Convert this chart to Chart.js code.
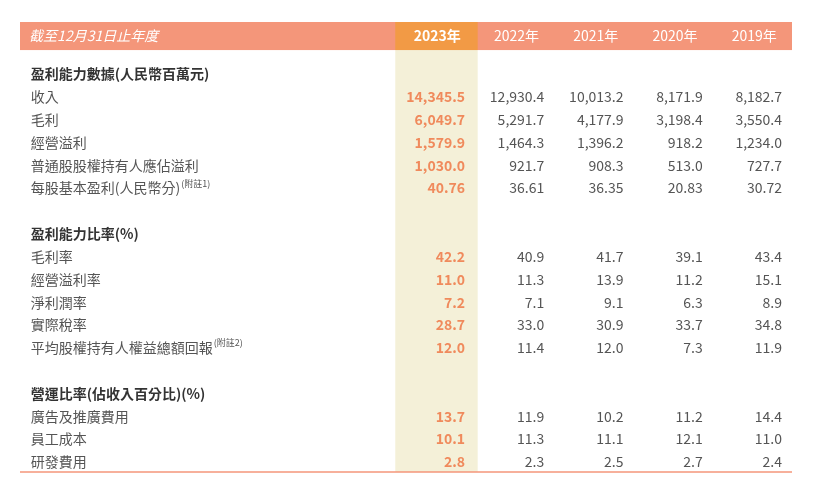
<!DOCTYPE html>
<html><head><meta charset="utf-8">
<script src="https://cdn.jsdelivr.net/npm/chart.js@4"></script>
<style>html,body{margin:0;background:#fff}#wrap{width:814px;height:481px}</style>
</head><body><div id="wrap"><canvas id="c"></canvas></div>
<script>
/* ---------- data ---------- */
const headerLabel = '截至12月31日止年度';
const years = ['2023年','2022年','2021年','2020年','2019年'];
// row index, label, note, is section header
const rowLabels = [
  '盈利能力數據(人民幣百萬元)','收入','毛利','經營溢利','普通股股權持有人應佔溢利','每股基本盈利(人民幣分)',
  '',
  '盈利能力比率(%)','毛利率','經營溢利率','淨利潤率','實際稅率','平均股權持有人權益總額回報',
  '',
  '營運比率(佔收入百分比)(%)','廣告及推廣費用','員工成本','研發費用'
];
const rowNotes = {5:'(附註1)',12:'(附註2)'};
const sectionRows = [0,7,14];
const y2023 = ['','14,345.5','6,049.7','1,579.9','1,030.0','40.76','','','42.2','11.0','7.2','28.7','12.0','','','13.7','10.1','2.8'];
const y2022 = ['','12,930.4','5,291.7','1,464.3','921.7','36.61','','','40.9','11.3','7.1','33.0','11.4','','','11.9','11.3','2.3'];
const y2021 = ['','10,013.2','4,177.9','1,396.2','908.3','36.35','','','41.7','13.9','9.1','30.9','12.0','','','10.2','11.1','2.5'];
const y2020 = ['','8,171.9','3,198.4','918.2','513.0','20.83','','','39.1','11.2','6.3','33.7','7.3','','','11.2','12.1','2.7'];
const y2019 = ['','8,182.7','3,550.4','1,234.0','727.7','30.72','','','43.4','15.1','8.9','34.8','11.9','','','14.4','11.0','2.4'];
const columns = [y2023,y2022,y2021,y2020,y2019];

const FONT = '"Noto Sans CJK TC","Noto Sans",sans-serif';
const C = {header:'#f4967a',hlHead:'#f29a45',hlBody:'#f4f0d8',text:'#555',sect:'#333',hl:'#f08a5c',line:'#f4967a'};

const tablePlugin = {
  id:'table',
  beforeDatasetsDraw(chart){
    const {ctx,scales:{x,y}} = chart;
    const top=y.getPixelForValue(-2.28), hb=y.getPixelForValue(-1.05), bot=y.getPixelForValue(17.44);
    const L=x.getPixelForValue(-5.615), R=x.getPixelForValue(4.126);
    const hl0=x.getPixelForValue(-0.88), hl1=x.getPixelForValue(0.16);
    ctx.save();
    ctx.fillStyle=C.header; ctx.fillRect(L,top,R-L,hb-top);
    ctx.fillStyle=C.hlBody; ctx.fillRect(hl0,hb,hl1-hl0,bot-hb);
    ctx.fillStyle=C.hlHead; ctx.fillRect(hl0,top,hl1-hl0,hb-top);
    ctx.strokeStyle=C.line; ctx.lineWidth=1.5;
    ctx.beginPath(); ctx.moveTo(L,bot); ctx.lineTo(R,bot); ctx.stroke();
    // header texts
    const hy=y.getPixelForValue(-1.67);
    ctx.textBaseline='middle'; ctx.fillStyle='#fff';
    ctx.font='italic 14px '+FONT; ctx.textAlign='left';
    ctx.fillText(headerLabel,x.getPixelForValue(-5.5),hy);
    ctx.textAlign='center';
    years.forEach((t,i)=>{
      ctx.font=(i===0?'bold ':'')+'14px '+FONT;
      ctx.fillText(t,x.getPixelForValue(i-0.35),hy);
    });
    // rows
    rowLabels.forEach((t,r)=>{
      const py=y.getPixelForValue(r);
      const sec=sectionRows.includes(r);
      ctx.textAlign='left'; ctx.fillStyle=sec?C.sect:C.text;
      ctx.font=(sec?'bold ':'')+'14px '+FONT;
      const lx=x.getPixelForValue(-5.48);
      ctx.fillText(t,lx,py);
      if(rowNotes[r]){
        const w=ctx.measureText(t).width;
        ctx.font='9px '+FONT;
        ctx.fillText(rowNotes[r],lx+w+1,py-5);
      }
      columns.forEach((col,i)=>{
        if(!col[r]) return;
        ctx.textAlign='right';
        ctx.fillStyle=i===0?C.hl:C.text;
        ctx.font=(i===0?'bold ':'')+'14px '+FONT;
        ctx.fillText(col[r],x.getPixelForValue(i),py);
      });
    });
    ctx.restore();
  }
};

new Chart(document.getElementById('c'),{
  type:'scatter',
  data:{datasets:[]},
  options:{
    responsive:true,maintainAspectRatio:false,animation:false,
    layout:{padding:{left:20,right:22,top:22,bottom:9}},
    plugins:{legend:{display:false},tooltip:{enabled:false}},
    scales:{
      x:{type:'linear',min:-5.615,max:4.126,display:false},
      y:{type:'linear',min:-2.28,max:17.44,reverse:true,display:false}
    }
  },
  plugins:[tablePlugin]
});
</script></body></html>
